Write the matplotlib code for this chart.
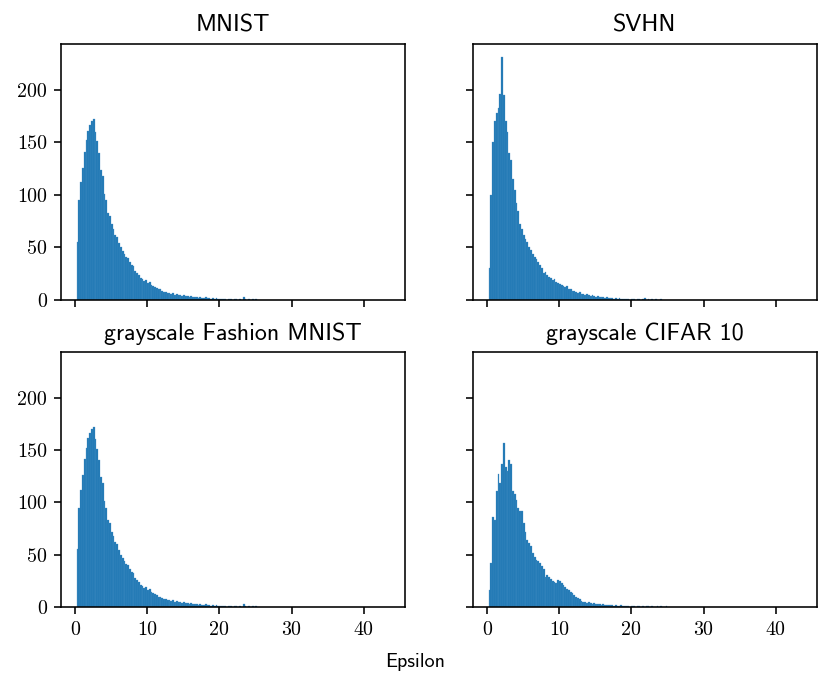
import numpy as np
import matplotlib
matplotlib.use("Agg")
import matplotlib.pyplot as plt

# histogram counts, bins of 0.25 starting at 0.25
bin_start = 0.25
bin_width = 0.25

mnist_counts = [55, 95, 112, 126, 141, 152, 161, 166, 170, 172,
                160, 151, 140, 124, 118, 101, 95, 83, 80, 72,
                68, 62, 60, 54, 50, 47, 44, 41, 40, 36,
                33, 32, 28, 26, 24, 21, 20, 18, 19, 16,
                17, 14, 13, 12, 11, 10, 10, 9, 8, 8,
                7, 7, 6, 7, 5, 6, 5, 5, 4, 5,
                4, 4, 3, 4, 3, 3, 3, 2, 3, 2,
                2, 3, 2, 2, 1, 2, 1, 2, 1, 1,
                1, 1, 1, 0, 1, 1, 0, 1, 1, 0,
                1, 0, 3, 1, 0, 1, 0, 1, 0, 1]

svhn_counts = [30, 100, 150, 170, 178, 183, 196, 231, 195, 170,
               160, 140, 133, 115, 105, 92, 85, 72, 68, 62,
               58, 55, 50, 48, 44, 41, 39, 36, 33, 30,
               26, 27, 24, 22, 21, 19, 20, 17, 16, 15,
               14, 13, 12, 13, 10, 10, 9, 9, 8, 7,
               8, 6, 6, 5, 6, 5, 4, 5, 4, 3,
               4, 3, 3, 3, 2, 3, 2, 2, 2, 1,
               2, 1, 2, 1, 1, 1, 1, 1, 0, 1,
               1, 0, 1, 1, 0, 1, 2, 0, 1, 0,
               1, 0, 1, 0, 0, 1]

cifar_counts = [16, 42, 86, 83, 111, 127, 118, 137, 157, 134,
                130, 140, 137, 111, 108, 102, 95, 92, 92, 80,
                72, 64, 61, 58, 52, 48, 45, 44, 42, 39,
                36, 29, 31, 29, 27, 25, 24, 23, 26, 25,
                23, 21, 19, 17, 16, 14, 13, 11, 10, 9,
                8, 6, 5, 5, 4, 5, 4, 3, 4, 3,
                3, 3, 2, 3, 2, 2, 2, 2, 2, 1,
                2, 1, 1, 2, 1, 1, 1, 1, 0, 1,
                1, 0, 1, 1, 0, 1, 0, 1, 1, 0,
                1, 0, 0, 1, 0, 1, 0, 0, 1]

# the Fashion MNIST panel looks identical to MNIST
fashion_counts = list(mnist_counts)

titles = ["MNIST", "SVHN", "grayscale Fashion MNIST", "grayscale CIFAR 10"]
panel_counts = [mnist_counts, svhn_counts, fashion_counts, cifar_counts]
x_ticks = [0, 10, 20, 30, 40]
y_ticks = [0, 50, 100, 150, 200]

W, H, DPI = 831, 691, 144
fig = plt.figure(figsize=(W / DPI, H / DPI), dpi=DPI)

boxes = [(61, 44, 405, 300), (473, 44, 817, 300),
         (61, 352, 405, 607), (473, 352, 817, 607)]

axes = []
for i, (x0, y0, x1, y1) in enumerate(boxes):
    rect = [x0 / W, 1 - y1 / H, (x1 - x0) / W, (y1 - y0) / H]
    if i == 0:
        ax = fig.add_axes(rect)
    else:
        ax = fig.add_axes(rect, sharex=axes[0], sharey=axes[0])
    axes.append(ax)

for i, ax in enumerate(axes):
    counts = np.array(panel_counts[i], dtype=float)
    lefts = bin_start + bin_width * np.arange(len(counts))
    ax.bar(lefts, counts, width=bin_width, align="edge",
           color="#1f77b4", edgecolor="#4a92c6", linewidth=0.15)
    ax.set_title(titles[i], family="cmss10", fontsize=12)
    ax.set_xticks(x_ticks)
    ax.set_yticks(y_ticks)
    ax.set_xticklabels([str(t) for t in x_ticks], family="cmr10", fontsize=10)
    ax.set_yticklabels([str(t) for t in y_ticks], family="cmr10", fontsize=10)
    if i in (1, 3):
        ax.tick_params(labelleft=False)
    if i in (0, 1):
        ax.tick_params(labelbottom=False)

axes[0].set_xlim(-1.9, 45.7)
axes[0].set_ylim(0, 243.5)

fig.text(0.5, 1 - 662 / H, "Epsilon", family="cmss10", fontsize=10,
         ha="center", va="center")

fig.savefig("out.png", dpi=DPI)
